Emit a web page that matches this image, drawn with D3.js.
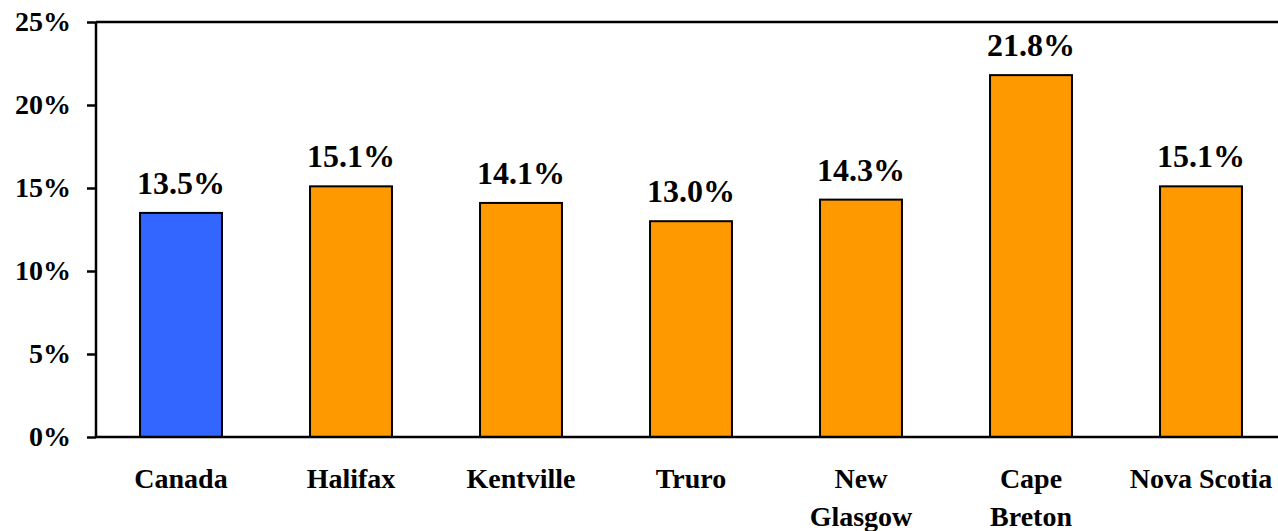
<!DOCTYPE html>
<html>
<head>
<meta charset="utf-8">
<script src="https://cdn.jsdelivr.net/npm/d3@7"></script>
<style>
html,body{margin:0;padding:0;background:#fff;}
svg{display:block;}
</style>
</head>
<body>
<svg id="chart" width="1278" height="531"></svg>
<script>
const categories = ["Canada", "Halifax", "Kentville", "Truro", "New Glasgow", "Cape Breton", "Nova Scotia"];
const categoryLines = [["Canada"], ["Halifax"], ["Kentville"], ["Truro"], ["New", "Glasgow"], ["Cape", "Breton"], ["Nova Scotia"]];
const values = [13.5, 15.1, 14.1, 13.0, 14.3, 21.8, 15.1];
const barColors = ["#3366FF", "#FF9900", "#FF9900", "#FF9900", "#FF9900", "#FF9900", "#FF9900"];
const yTicks = [0, 5, 10, 15, 20, 25];

(function () {
const FONT = "'Liberation Serif'";
const svg = d3.select("#chart");
const pLeft = 96, pRight = 1286, pTop = 22, pBottom = 437;

const x = d3.scaleBand().domain(categories).range([pLeft, pRight]).paddingInner(0.518).paddingOuter(0.259);
const y = d3.scaleLinear().domain([0, 25]).range([pBottom, pTop]);

// bars
svg.selectAll("rect.bar").data(values).enter().append("rect")
  .attr("class", "bar")
  .attr("x", (d, i) => x(categories[i]))
  .attr("y", d => y(d))
  .attr("width", x.bandwidth())
  .attr("height", d => y(0) - y(d))
  .attr("fill", (d, i) => barColors[i])
  .attr("stroke", "#000")
  .attr("stroke-width", 2);

// value labels
svg.selectAll("text.val").data(values).enter().append("text")
  .attr("class", "val")
  .attr("x", (d, i) => x(categories[i]) + x.bandwidth() / 2)
  .attr("y", d => y(d) - 19)
  .attr("text-anchor", "middle")
  .style("font-family", FONT).style("font-weight", "bold")
  .style("font-size", "32px")
  .text(d => d.toFixed(1) + "%");

// top frame line
svg.append("line").attr("x1", pLeft).attr("x2", 1278).attr("y1", y(25)).attr("y2", y(25))
  .attr("stroke", "#000").attr("stroke-width", 2.5);

// y axis
const yAxis = d3.axisLeft(y).tickValues(yTicks).tickFormat(d => d + "%").tickSize(9).tickPadding(16);
const gy = svg.append("g").attr("transform", `translate(${pLeft},0)`).call(yAxis);
gy.attr("font-family", null).attr("font-size", null);
gy.select(".domain").attr("stroke", "#000").attr("stroke-width", 2.5).attr("d", `M0,${pBottom}V${pTop}`);
gy.selectAll(".tick line").attr("stroke", "#000").attr("stroke-width", 2.5);
gy.selectAll(".tick text")
  .style("font-family", FONT).style("font-weight", "bold")
  .style("font-size", "28px").attr("dy", "0.3em").attr("fill", "#000");

// x axis baseline
svg.append("line").attr("x1", pLeft).attr("x2", 1278).attr("y1", pBottom).attr("y2", pBottom)
  .attr("stroke", "#000").attr("stroke-width", 2.5);

// category labels
const cl = svg.selectAll("text.cat").data(categories).enter().append("text")
  .attr("class", "cat")
  .attr("text-anchor", "middle")
  .style("font-family", FONT).style("font-weight", "bold")
  .style("font-size", "28px")
  .attr("x", d => x(d) + x.bandwidth() / 2)
  .attr("y", pBottom + 51);
cl.each(function (d, i) {
  const t = d3.select(this);
  categoryLines[i].forEach((line, j) => {
    t.append("tspan").attr("x", x(d) + x.bandwidth() / 2).attr("dy", j === 0 ? 0 : 38).text(line);
  });
});
})();
</script>
</body>
</html>
